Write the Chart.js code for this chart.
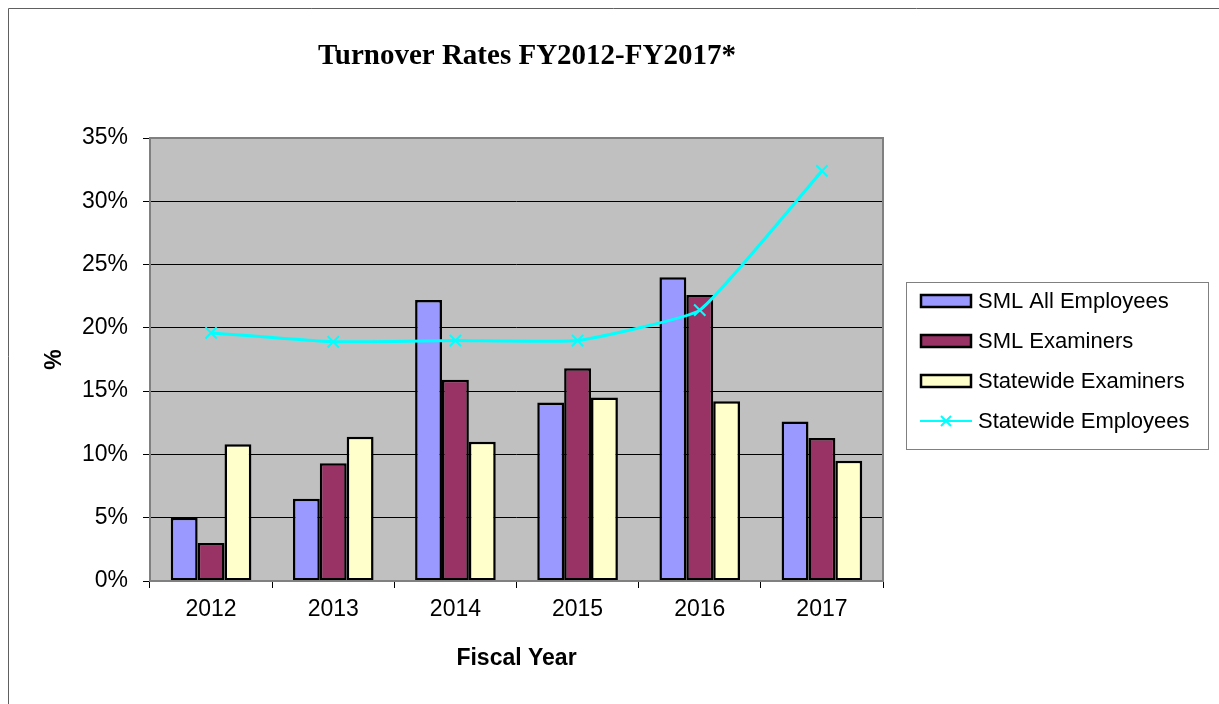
<!DOCTYPE html>
<html>
<head>
<meta charset="utf-8">
<script src="https://cdn.jsdelivr.net/npm/chart.js@4.4.1/dist/chart.umd.min.js"></script>
<style>
  html, body { margin: 0; padding: 0; background: #fff; }
  #wrap { width: 1219px; height: 704px; position: relative; }
</style>
</head>
<body>
<div id="wrap"><canvas id="turnover-chart" width="1219" height="704"></canvas></div>
<script>
// fiscal years and turnover rates (%)
const fiscalYears = ['2012', '2013', '2014', '2015', '2016', '2017'];
const smlAllEmployees = [5.0, 6.5, 22.2, 14.1, 24.0, 12.6];
const smlExaminers = [3.0, 9.3, 15.9, 16.8, 22.6, 11.3];
const statewideExaminers = [10.8, 11.4, 11.0, 14.5, 14.2, 9.5];
const statewideEmployees = [19.6, 18.9, 19.0, 19.0, 21.4, 32.4];
const yTicks = [0, 5, 10, 15, 20, 25, 30, 35];

const chartTitle = 'Turnover Rates FY2012-FY2017*';
const axisFont = 'Arial, "Liberation Sans", sans-serif';

// plot background, plot border, outer frame, title and boxed legend
const excelLook = {
    id: 'excelLook',
    beforeDraw(chart) {
        const { ctx, chartArea: a } = chart;
        ctx.save();
        ctx.fillStyle = '#fff';
        ctx.fillRect(0, 0, chart.width, chart.height);
        ctx.fillStyle = '#c0c0c0';
        ctx.fillRect(a.left, a.top, a.right - a.left, a.bottom - a.top);
        ctx.restore();
    },
    afterDatasetsDraw(chart) {
        const { ctx, chartArea: a } = chart;
        ctx.save();
        ctx.strokeStyle = '#808080';
        ctx.lineWidth = 2;
        ctx.strokeRect(a.left, a.top, a.right - a.left, a.bottom - a.top);
        ctx.restore();
    },
    afterDraw(chart) {
        const { ctx } = chart;
        ctx.save();

        // outer frame
        ctx.strokeStyle = '#606060';
        ctx.lineWidth = 1;
        ctx.beginPath();
        ctx.moveTo(8.5, chart.height);
        ctx.lineTo(8.5, 8.5);
        ctx.lineTo(chart.width, 8.5);
        ctx.stroke();

        // title
        ctx.fillStyle = '#000';
        ctx.font = 'bold 29px "Liberation Serif", "DejaVu Serif", serif';
        ctx.textAlign = 'center';
        ctx.textBaseline = 'middle';
        ctx.fillText(chartTitle, 527, 57);

        // legend
        const box = { x: 906.5, y: 282.5, w: 302, h: 167 };
        ctx.fillStyle = '#fff';
        ctx.fillRect(box.x, box.y, box.w, box.h);
        ctx.strokeStyle = '#808080';
        ctx.lineWidth = 1;
        ctx.strokeRect(box.x, box.y, box.w, box.h);

        ctx.font = '22px ' + axisFont;
        ctx.textAlign = 'left';
        chart.data.datasets.forEach((ds, i) => {
            const cy = 301 + i * 40;
            if (ds.type === 'line') {
                ctx.strokeStyle = ds.borderColor;
                ctx.lineWidth = 2;
                ctx.beginPath();
                ctx.moveTo(920, cy);
                ctx.lineTo(972, cy);
                ctx.moveTo(941, cy - 5);
                ctx.lineTo(951, cy + 5);
                ctx.moveTo(951, cy - 5);
                ctx.lineTo(941, cy + 5);
                ctx.stroke();
            } else {
                ctx.fillStyle = ds.backgroundColor;
                ctx.fillRect(921, cy - 6, 50, 12);
                ctx.strokeStyle = '#000';
                ctx.lineWidth = 2.5;
                ctx.strokeRect(921, cy - 6, 50, 12);
            }
            ctx.fillStyle = '#000';
            ctx.fillText(ds.label, 978, cy + 1);
        });
        ctx.restore();
    }
};

const barStyle = {
    type: 'bar',
    borderColor: '#000',
    borderWidth: 2.5,
    borderSkipped: false,
    barPercentage: 1,
    categoryPercentage: 0.66,
    order: 1
};

new Chart(document.getElementById('turnover-chart'), {
    data: {
        labels: fiscalYears,
        datasets: [
            { ...barStyle, label: 'SML All Employees', data: smlAllEmployees, backgroundColor: '#9999ff' },
            { ...barStyle, label: 'SML Examiners', data: smlExaminers, backgroundColor: '#993366' },
            { ...barStyle, label: 'Statewide Examiners', data: statewideExaminers, backgroundColor: '#ffffcc' },
            {
                type: 'line',
                label: 'Statewide Employees',
                data: statewideEmployees,
                borderColor: '#00ffff',
                backgroundColor: '#00ffff',
                borderWidth: 3,
                tension: 0.12,
                pointStyle: 'crossRot',
                pointRadius: 8,
                pointBorderWidth: 2,
                pointBorderColor: '#00ffff',
                order: 0
            }
        ]
    },
    options: {
        responsive: false,
        animation: false,
        events: [],
        layout: { padding: { left: 8, top: 138, right: 336, bottom: 0 } },
        plugins: {
            legend: { display: false },
            title: { display: false },
            tooltip: { enabled: false }
        },
        scales: {
            x: {
                afterFit(scale) { scale.height = 123; },
                border: { display: false },
                grid: {
                    offset: true,
                    drawOnChartArea: false,
                    drawTicks: true,
                    tickLength: 7,
                    tickColor: '#000',
                    lineWidth: 1
                },
                ticks: {
                    color: '#000',
                    padding: 8,
                    font: { family: axisFont, size: 23 }
                },
                title: {
                    display: true,
                    text: 'Fiscal Year',
                    color: '#000',
                    padding: { top: 0, bottom: 32 },
                    font: { family: axisFont, size: 23, weight: 'bold' }
                }
            },
            y: {
                min: 0,
                max: 35,
                afterFit(scale) { scale.width = 142; },
                afterBuildTicks(scale) { scale.ticks = yTicks.map(v => ({ value: v })); },
                border: { display: false },
                grid: {
                    color: ctx => (ctx.tick && (ctx.tick.value === 0 || ctx.tick.value === 35)) ? 'rgba(0,0,0,0)' : '#000',
                    tickColor: '#000',
                    tickLength: 7,
                    lineWidth: 1
                },
                ticks: {
                    color: '#000',
                    padding: 15,
                    font: { family: axisFont, size: 23 },
                    callback: v => v + '%'
                },
                title: {
                    display: true,
                    text: '%',
                    color: '#000',
                    padding: { top: 33, bottom: 0 },
                    font: { family: axisFont, size: 23, weight: 'bold' }
                }
            }
        }
    },
    plugins: [excelLook]
});
</script>
</body>
</html>
